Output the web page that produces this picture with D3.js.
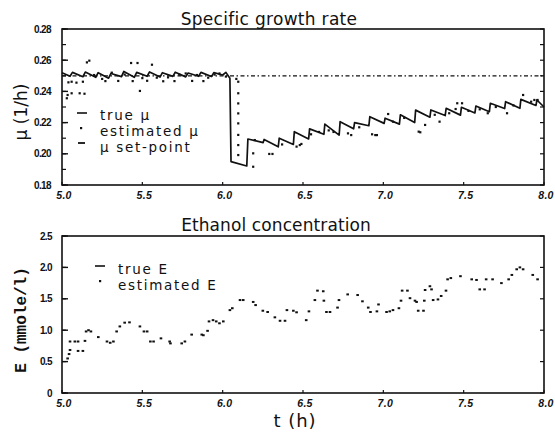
<!DOCTYPE html>
<html>
<head>
<meta charset="utf-8">
<script src="https://cdn.jsdelivr.net/npm/d3@7"></script>
<style>
  body { margin: 0; background: #fff; }
  text { fill: #111; }
</style>
</head>
<body>
<svg id="chart" width="555" height="436"></svg>
<script>
// ---- Specific growth rate: true mu (vertices of the sawtooth trace) ----
const trueMuT = [5.00,5.05,5.065,5.13,5.145,5.21,5.225,5.29,5.305,5.37,5.385,5.45,5.465,5.53,5.545,
  5.61,5.625,5.69,5.705,5.77,5.785,5.85,5.865,5.93,5.945,6.00,6.02,6.045,6.052,6.150,6.157,
  6.252,6.258,6.346,6.352,6.440,6.446,6.535,6.541,6.630,6.636,6.725,6.731,6.815,6.821,
  6.910,6.916,7.005,7.011,7.100,7.106,7.195,7.201,7.290,7.296,7.385,7.391,7.480,7.486,
  7.570,7.576,7.660,7.666,7.755,7.761,7.850,7.856,7.950,7.956,8.000];
const trueMu = [0.2520,0.2497,0.2522,0.2494,0.2524,0.2490,0.2520,0.2485,0.2515,0.2495,0.2528,0.2490,0.2522,0.2497,0.2525,
  0.2492,0.2520,0.2496,0.2523,0.2493,0.2518,0.2497,0.2522,0.2495,0.2520,0.2505,0.2522,0.2485,0.1950,0.1922,0.2095,
  0.2072,0.2092,0.2045,0.2100,0.2060,0.2142,0.2095,0.2160,0.2125,0.2190,0.2120,0.2206,0.2160,0.2200,
  0.2180,0.2238,0.2195,0.2228,0.2190,0.2250,0.2200,0.2280,0.2235,0.2281,0.2245,0.2292,0.2248,0.2298,
  0.2262,0.2306,0.2270,0.2324,0.2290,0.2334,0.2292,0.2349,0.2310,0.2345,0.2300];

// ---- estimated mu (samples) ----
const estMuT = [5.03,5.035,5.04,5.06,5.06,5.09,5.11,5.13,5.14,5.155,5.17,5.20,5.25,5.27,5.31,5.35,5.39,
  5.43,5.44,5.47,5.485,5.50,5.53,5.56,5.59,5.63,5.66,5.70,5.73,5.77,5.81,5.84,5.88,5.91,5.95,5.98,6.02,
  6.085,6.097,6.097,6.097,6.097,6.097,6.097,6.097,6.097,6.19,6.19,6.20,6.29,6.31,6.37,6.46,6.48,6.49,
  6.55,6.60,6.66,6.69,6.78,6.80,6.85,6.93,6.95,6.96,7.03,7.06,7.13,7.22,7.23,7.26,7.32,7.35,7.41,7.45,
  7.46,7.49,7.53,7.60,7.65,7.70,7.77,7.81,7.87,7.92,7.94,7.96];
const estMu = [0.2356,0.2377,0.2458,0.2388,0.2462,0.2456,0.2388,0.2462,0.2385,0.2586,0.2597,0.2505,0.2480,0.2466,0.2520,0.2467,0.2508,
  0.2582,0.2466,0.2582,0.2403,0.2485,0.2468,0.2571,0.2488,0.2465,0.2490,0.2466,0.2508,0.2515,0.2467,0.2505,0.2466,0.2488,0.2508,0.2515,0.2495,
  0.2480,0.2462,0.2388,0.2323,0.2259,0.2195,0.2121,0.2056,0.1992,0.2003,0.1917,0.2088,0.1999,0.1999,0.2060,0.2046,0.2056,0.2063,
  0.2125,0.2140,0.2150,0.2140,0.2131,0.2120,0.2170,0.2125,0.2120,0.2120,0.2255,0.2206,0.2230,0.2142,0.2138,0.2185,0.2250,0.2206,0.2260,0.2287,
  0.2324,0.2324,0.2275,0.2285,0.2260,0.2300,0.2260,0.2310,0.2377,0.2334,0.2345,0.2345];

const muSetPoint = 0.25;

// ---- Ethanol concentration: estimated E (samples) ----
const estET = [5.035,5.044,5.05,5.05,5.08,5.10,5.10,5.13,5.143,5.15,5.165,5.18,5.226,5.28,5.30,5.32,5.34,5.36,5.39,5.42,
  5.485,5.51,5.53,5.55,5.57,5.616,5.67,5.675,5.745,5.765,5.807,5.87,5.88,5.906,5.915,5.94,5.96,5.98,6.004,6.045,6.06,
  6.108,6.128,6.19,6.205,6.25,6.28,6.325,6.357,6.388,6.40,6.44,6.46,6.52,6.537,6.574,6.59,6.626,6.63,6.646,6.668,
  6.715,6.724,6.778,6.84,6.87,6.906,6.92,6.96,6.97,7.02,7.04,7.06,7.097,7.11,7.117,7.15,7.166,7.197,7.207,7.217,7.25,
  7.255,7.26,7.29,7.30,7.31,7.34,7.36,7.39,7.40,7.42,7.48,7.55,7.58,7.60,7.63,7.64,7.68,7.735,7.78,7.80,7.83,7.85,7.87,7.93,7.96];
const estE = [0.55,0.62,0.685,0.82,0.82,0.82,0.67,0.67,0.83,0.98,1.00,0.98,0.89,0.82,0.80,0.82,0.98,1.06,1.12,1.125,
  1.06,0.98,0.98,0.82,0.82,0.87,0.82,0.79,0.79,0.82,0.93,0.93,0.92,0.99,1.14,1.16,1.14,1.11,1.14,1.32,1.35,
  1.48,1.48,1.45,1.40,1.31,1.29,1.205,1.15,1.15,1.32,1.31,1.285,1.16,1.30,1.48,1.63,1.62,1.47,1.29,1.29,
  1.36,1.48,1.57,1.56,1.46,1.36,1.29,1.30,1.41,1.29,1.30,1.32,1.35,1.47,1.63,1.63,1.51,1.47,1.45,1.31,1.31,
  1.47,1.64,1.70,1.65,1.48,1.49,1.545,1.63,1.81,1.83,1.86,1.81,1.80,1.65,1.65,1.81,1.81,1.75,1.81,1.88,1.97,2.00,1.97,1.88,1.81];

// ---- tick labels ----
const timeTicks = [5.0, 5.5, 6.0, 6.5, 7.0, 7.5, 8.0];
const muTicks = [0.18, 0.20, 0.22, 0.24, 0.26, 0.28];
const eTicks = [0, 0.5, 1.0, 1.5, 2.0, 2.5];

const svg = d3.select("#chart");
const left = 62, right = 544;

const x = d3.scaleLinear().domain([5, 8]).range([left, right]);
const yMu = d3.scaleLinear().domain([0.18, 0.28]).range([185, 29]);
const yE = d3.scaleLinear().domain([0, 2.5]).range([393, 236]);

function frame(y, majorTicks, minorTicks, labelFmt, labelX) {
  const [y0, y1] = y.range();
  const g = svg.append("g");
  // inward ticks on left and right edges
  minorTicks.forEach(v => {
    g.append("line").attr("x1", left).attr("x2", left + 4).attr("y1", y(v)).attr("y2", y(v))
      .attr("stroke", "#111").attr("stroke-width", 1.2);
    g.append("line").attr("x1", right).attr("x2", right - 4).attr("y1", y(v)).attr("y2", y(v))
      .attr("stroke", "#111").attr("stroke-width", 1.2);
  });
  majorTicks.forEach(v => {
    g.append("line").attr("x1", left).attr("x2", left + 6).attr("y1", y(v)).attr("y2", y(v))
      .attr("stroke", "#111").attr("stroke-width", 1.4);
    g.append("text").attr("x", labelX).attr("y", y(v) + 3.5)
      .attr("text-anchor", "end")
      .attr("font-family", "Liberation Sans, Arial, sans-serif")
      .attr("font-weight", "bold").attr("font-size", 10).attr("letter-spacing", -0.6)
      .text(labelFmt(v));
  });
  timeTicks.forEach(v => {
    g.append("line").attr("x1", x(v)).attr("x2", x(v)).attr("y1", y0).attr("y2", y0 - 3)
      .attr("stroke", "#111").attr("stroke-width", 1.2);
    g.append("text").attr("x", x(v) + 2).attr("y", y0 + 14)
      .attr("text-anchor", "middle")
      .attr("font-family", "Liberation Sans, Arial, sans-serif")
      .attr("font-weight", "bold").attr("font-style", "italic")
      .attr("font-size", 10.5).attr("letter-spacing", 0.3)
      .text(d3.format(".1f")(v));
  });
  g.append("rect").attr("x", left).attr("y", y1).attr("width", right - left).attr("height", y0 - y1)
    .attr("fill", "none").attr("stroke", "#111").attr("stroke-width", 1.6);
}

// ===== Top panel: specific growth rate =====
frame(yMu, muTicks, d3.range(0.18, 0.2801, 0.01), d3.format(".2f"), 51);

svg.append("text").attr("x", 269).attr("y", 25).attr("text-anchor", "middle")
  .attr("font-family", "DejaVu Sans, sans-serif").attr("font-size", 17).attr("letter-spacing", 0.3)
  .text("Specific growth rate");

svg.append("text").attr("transform", "translate(27,112) rotate(-90)").attr("text-anchor", "middle")
  .attr("font-family", "DejaVu Sans, sans-serif").attr("font-size", 17)
  .text("\u03bc (1/h)");

// set-point (dash-dot)
svg.append("line").attr("x1", x(5)).attr("x2", x(8)).attr("y1", yMu(muSetPoint)).attr("y2", yMu(muSetPoint))
  .attr("stroke", "#111").attr("stroke-width", 1.3).attr("stroke-dasharray", "4,2.5,1.5,2.5");

// true mu
const muLine = d3.line().x((d, i) => x(trueMuT[i])).y((d, i) => yMu(trueMu[i]));
svg.append("path").attr("d", muLine(trueMu)).attr("fill", "none")
  .attr("stroke", "#111").attr("stroke-width", 1.7).attr("stroke-linejoin", "round");

// estimated mu
svg.append("g").selectAll("rect").data(estMu).join("rect")
  .attr("x", (d, i) => x(estMuT[i]) - 1.1).attr("y", d => yMu(d) - 1.1)
  .attr("width", 2.2).attr("height", 2.2).attr("fill", "#111");

// legend (top)
const legFont = "DejaVu Sans, sans-serif";
svg.append("line").attr("x1", 77).attr("x2", 87).attr("y1", 113).attr("y2", 113)
  .attr("stroke", "#111").attr("stroke-width", 1.6);
svg.append("rect").attr("x", 80).attr("y", 127).attr("width", 2.2).attr("height", 2.2).attr("fill", "#111");
svg.append("line").attr("x1", 78).attr("x2", 85).attr("y1", 143).attr("y2", 143)
  .attr("stroke", "#111").attr("stroke-width", 1.8);
[["true \u03bc", 120], ["estimated \u03bc", 136], ["\u03bc set-point", 152]].forEach(([t, yy]) => {
  svg.append("text").attr("x", 100).attr("y", yy).attr("font-family", legFont)
    .attr("font-size", 13.5).attr("letter-spacing", 1.7).text(t);
});

// ===== Bottom panel: ethanol concentration =====
frame(yE, eTicks, eTicks, d => d === 0 ? "0" : d3.format(".1f")(d), 52);

svg.append("text").attr("x", 276).attr("y", 231).attr("text-anchor", "middle")
  .attr("font-family", "DejaVu Sans, sans-serif").attr("font-size", 17).attr("letter-spacing", 0.1)
  .text("Ethanol concentration");

svg.append("text").attr("transform", "translate(26,320) rotate(-90)").attr("text-anchor", "middle")
  .attr("font-family", "Liberation Mono, monospace").attr("font-size", 16).attr("font-weight", "bold")
  .text("E (mmole/l)");

svg.append("text").attr("x", 295).attr("y", 427).attr("text-anchor", "middle")
  .attr("font-family", "DejaVu Sans, sans-serif").attr("font-size", 18).attr("letter-spacing", 1)
  .text("t (h)");

// estimated E
svg.append("g").selectAll("rect").data(estE).join("rect")
  .attr("x", (d, i) => x(estET[i]) - 1.3).attr("y", d => yE(d) - 1)
  .attr("width", 2.6).attr("height", 2).attr("fill", "#111");

// legend (bottom)
svg.append("line").attr("x1", 95).attr("x2", 105).attr("y1", 266).attr("y2", 266)
  .attr("stroke", "#111").attr("stroke-width", 1.6);
svg.append("rect").attr("x", 99).attr("y", 280).attr("width", 2.2).attr("height", 2.2).attr("fill", "#111");
[["true E", 274], ["estimated E", 290]].forEach(([t, yy]) => {
  svg.append("text").attr("x", 118).attr("y", yy).attr("font-family", legFont)
    .attr("font-size", 13.5).attr("letter-spacing", 1.7).text(t);
});
</script>
</body>
</html>
